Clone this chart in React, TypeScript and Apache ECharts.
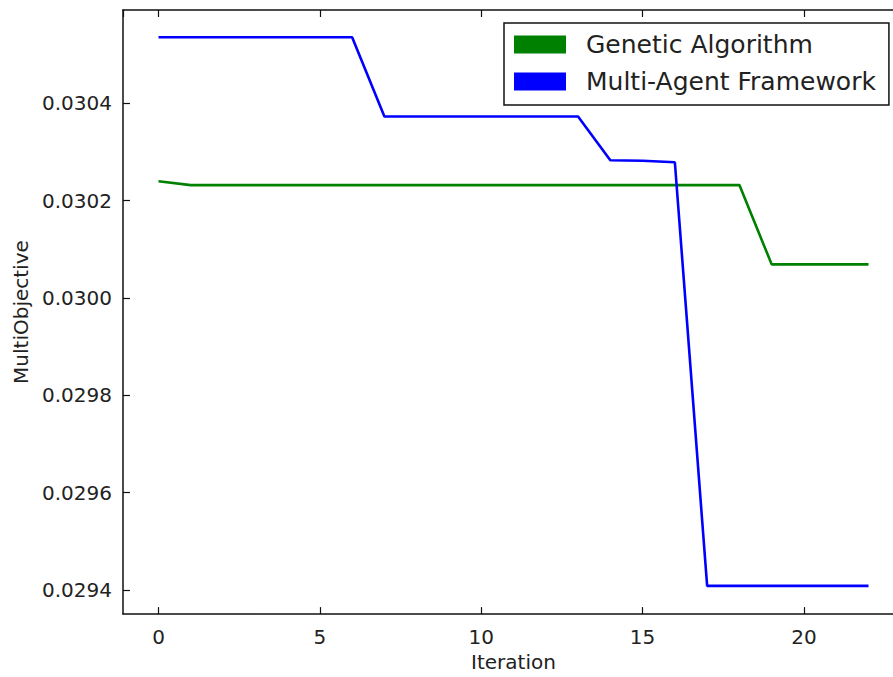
import React, { useEffect, useRef } from "react";
import * as echarts from "echarts";

const iterations = [0, 1, 2, 3, 4, 5, 6, 7, 8, 9, 10, 11, 12, 13, 14, 15, 16, 17, 18, 19, 20, 21, 22];
const geneticAlgorithm = [
  0.03024, 0.030232, 0.030232, 0.030232, 0.030232, 0.030232, 0.030232, 0.030232,
  0.030232, 0.030232, 0.030232, 0.030232, 0.030232, 0.030232, 0.030232, 0.030232,
  0.030232, 0.030232, 0.030232, 0.030069, 0.030069, 0.030069, 0.030069,
];
const multiAgent = [
  0.030536, 0.030536, 0.030536, 0.030536, 0.030536, 0.030536, 0.030536, 0.030373,
  0.030373, 0.030373, 0.030373, 0.030373, 0.030373, 0.030373, 0.030283, 0.030282,
  0.030279, 0.029408, 0.029408, 0.029408, 0.029408, 0.029408, 0.029408,
];
const seriesNames = ["Genetic Algorithm", "Multi-Agent Framework"];
const xTickLabels = [0, 5, 10, 15, 20];
const yTickLabels = ["0.0294", "0.0296", "0.0298", "0.0300", "0.0302", "0.0304"];

const FONT = "DejaVu Sans";

export default function App() {
  const ref = useRef<HTMLDivElement>(null);
  useEffect(() => {
    if (!ref.current) return;
    const chart = echarts.init(ref.current, null, { renderer: "svg" });
    const axisLine = { show: true, onZero: false, lineStyle: { color: "#111", width: 1.5 } };
    const axisTick = { show: true, inside: true, length: 7, lineStyle: { color: "#111", width: 1.2 } };
    const xLabelFmt = (v: number) => {
      const r = Math.round(v);
      return Math.abs(v - r) < 1e-6 && xTickLabels.includes(r) ? String(r) : "";
    };
    const yLabelFmt = (v: number) => {
      const s = v.toFixed(4);
      return Math.abs(v * 5000 - Math.round(v * 5000)) < 1e-6 && yTickLabels.includes(s) ? s : "";
    };
    chart.setOption({
      animation: false,
      backgroundColor: "#ffffff",
      textStyle: { fontFamily: FONT },
      grid: { left: 123, top: 10, right: 16, bottom: 59, containLabel: false },
      legend: {
        data: seriesNames.map((n) => ({ name: n, icon: "rect" })),
        orient: "vertical",
        left: 504,
        top: 23,
        itemWidth: 52,
        itemHeight: 18,
        itemGap: 12,
        padding: [9, 13, 11, 10],
        borderColor: "#111",
        borderWidth: 1.5,
        backgroundColor: "#ffffff",
        textStyle: { fontFamily: FONT, fontSize: 25, color: "#222", lineHeight: 25, padding: [0, 0, 0, 15] },
      },
      xAxis: [
        {
          type: "value",
          min: -1.1,
          max: 23.1,
          splitNumber: 5,
          name: "Iteration",
          nameLocation: "middle",
          nameGap: 34,
          nameTextStyle: { fontFamily: FONT, fontSize: 20, color: "#222" },
          axisLine,
          axisTick,
          splitLine: { show: false },
          axisLabel: { fontFamily: FONT, fontSize: 20, color: "#222", margin: 13, formatter: xLabelFmt, showMinLabel: false, showMaxLabel: false },
        },
        {
          type: "value",
          position: "top",
          min: -1.1,
          max: 23.1,
          splitNumber: 5,
          axisLine,
          axisTick,
          splitLine: { show: false },
          axisLabel: { show: false },
        },
      ],
      yAxis: {
        type: "value",
        min: 0.02935,
        max: 0.030592,
        splitNumber: 6,
        name: "MultiObjective",
        nameLocation: "middle",
        nameGap: 90,
        nameTextStyle: { fontFamily: FONT, fontSize: 20, color: "#222" },
        axisLine,
        axisTick,
        splitLine: { show: false },
        axisLabel: { fontFamily: FONT, fontSize: 20, color: "#222", margin: 11, formatter: yLabelFmt, showMinLabel: false, showMaxLabel: false },
      },
      series: [
        {
          name: seriesNames[0],
          type: "line",
          xAxisIndex: 0,
          data: iterations.map((x, i) => [x, geneticAlgorithm[i]]),
          showSymbol: false,
          color: "#008000",
          lineStyle: { color: "#008000", width: 2.6 },
        },
        {
          name: seriesNames[1],
          type: "line",
          xAxisIndex: 0,
          data: iterations.map((x, i) => [x, multiAgent[i]]),
          showSymbol: false,
          color: "#0000ff",
          lineStyle: { color: "#0000ff", width: 2.6 },
        },
      ],
    });
    return () => chart.dispose();
  }, []);
  return (
    <div style={{ position: "fixed", left: 0, top: 0, width: 893, height: 677, overflow: "hidden", background: "#fff" }}>
      <div ref={ref} style={{ width: 920, height: 677 }} />
    </div>
  );
}
